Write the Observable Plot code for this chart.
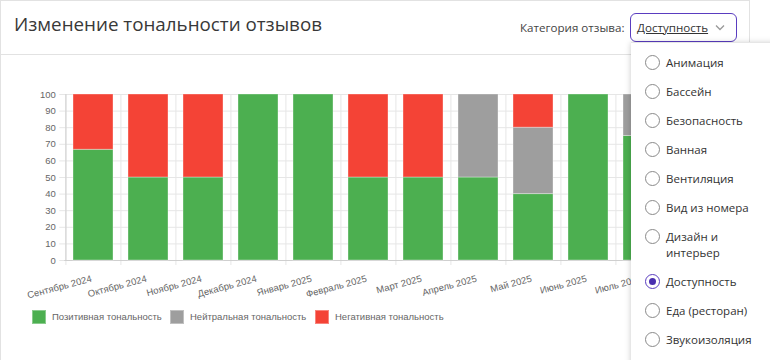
<!DOCTYPE html>
<html>
<head>
<meta charset="utf-8">
<script src="https://cdn.jsdelivr.net/npm/d3@7"></script>
<script src="https://cdn.jsdelivr.net/npm/@observablehq/plot@0.6"></script>
<style>
  html, body { margin: 0; padding: 0; background: #fff; width: 770px; height: 360px; overflow: hidden; }
  body { position: relative; font-family: "Open Sans", "Noto Sans", sans-serif; }
  #card { position: absolute; left: 0; top: 0; width: 748px; height: 400px; border: 1px solid #e2e2e2; box-sizing: content-box; }
  #header { position: absolute; left: 0; top: 0; width: 748px; height: 54px; border-bottom: 1px solid #e2e2e2; }
  #title { position: absolute; left: 14px; top: 11px; font-size: 18.8px; color: #383838; white-space: nowrap; }
  #catlabel { position: absolute; left: 520px; top: 20px; font-size: 11.6px; color: #444; white-space: nowrap; }
  #select { position: absolute; left: 630px; top: 13px; width: 107px; height: 29px; box-sizing: border-box; border: 1.5px solid #5a3dc0; border-radius: 6px; }
  #select span { position: absolute; left: 6px; top: 5.5px; font-size: 11.6px; color: #333; text-decoration: underline; white-space: nowrap; }
  #select svg { position: absolute; left: 84px; top: 10px; }
  #chart { position: absolute; left: 0; top: 84px; }
  #chart svg { font-family: "Liberation Sans", Arial, sans-serif; }
  #legend { position: absolute; top: 310px; left: 0; font-family: "Liberation Sans", Arial, sans-serif; font-size: 9.5px; color: #666; }
  .lg { position: absolute; top: 0; white-space: nowrap; }
  .lg i { position: absolute; left: 0; top: 0; width: 14px; height: 14px; box-sizing: border-box; border: 1px solid rgba(255,255,255,0.35); }
  .lg span { position: absolute; left: 20px; top: 1px; line-height: 12px; }
  #panel { position: absolute; left: 631px; top: 42px; width: 170px; height: 340px; background: #fff; box-shadow: 0 1px 6px rgba(0,0,0,0.22); border-top: 1px solid #e6e6e6; padding-top: 5px; box-sizing: border-box; }
  .item { position: relative; padding: 6.5px 0 6.5px 35px; font-size: 11.5px; line-height: 16px; color: #333; width: 90px; }
  .item .r { position: absolute; left: 14px; top: 7px; width: 15px; height: 15px; box-sizing: border-box; border: 1px solid #8a8a8a; border-radius: 50%; }
  .item .r.on { border: 1.5px solid #5a3dc0; }
  .item .r.on::after { content: ""; position: absolute; left: 2.5px; top: 2.5px; width: 7px; height: 7px; border-radius: 50%; background: #4a2fb0; }
</style>
</head>
<body>
<div id="card"></div>
<div id="header">
  <div id="title">Изменение тональности отзывов</div>
  <div id="catlabel">Категория отзыва:</div>
  <div id="select"><span>Доступность</span>
    <svg width="10" height="7" viewBox="0 0 10 7"><path d="M1 1.5 L5 5.5 L9 1.5" fill="none" stroke="#999" stroke-width="1.3"/></svg>
  </div>
</div>
<div id="chart"></div>
<div id="legend"></div>
<div id="panel"></div>
<script>
const months = ["Сентябрь 2024", "Октябрь 2024", "Ноябрь 2024", "Декабрь 2024", "Январь 2025", "Февраль 2025", "Март 2025", "Апрель 2025", "Май 2025", "Июнь 2025", "Июль 2025"];
const positive = [66.7, 50, 50, 100, 100, 50, 50, 50, 40, 100, 75];
const neutral  = [0, 0, 0, 0, 0, 0, 0, 50, 40, 0, 25];
const negative = [33.3, 50, 50, 0, 0, 50, 50, 0, 20, 0, 0];
const seriesNames = ["Позитивная тональность", "Нейтральная тональность", "Негативная тональность"];
const seriesColors = ["#4caf50", "#9e9e9e", "#f44336"];
const yTicks = [0, 10, 20, 30, 40, 50, 60, 70, 80, 90, 100];
const categories = ["Анимация", "Бассейн", "Безопасность", "Ванная", "Вентиляция", "Вид из номера", "Дизайн и интерьер", "Доступность", "Еда (ресторан)", "Звукоизоляция"];
const selected = "Доступность";

const rows = [];
months.forEach((m, i) => {
  [positive, neutral, negative].forEach((arr, k) => {
    rows.push({month: m, series: seriesNames[k], value: arr[i]});
  });
});

const W = 700, ML = 64.3, MR = 28.5;
const step = (W - ML - MR) / months.length;
const grid = "#e6e6e6";

const chart = Plot.plot({
  width: W,
  height: 221,
  marginTop: 10,
  marginBottom: 45,
  marginLeft: ML,
  marginRight: MR,
  style: {fontSize: "9.5px", color: "#666", background: "transparent"},
  x: {domain: months, paddingInner: 0.28, paddingOuter: 0.14},
  y: {domain: [0, 100]},
  color: {domain: seriesNames, range: seriesColors},
  marks: [
    Plot.ruleY(yTicks, {stroke: grid, insetLeft: -5}),
    Plot.ruleX(months, {stroke: grid, dx: -step / 2, insetBottom: -5}),
    Plot.ruleX([months[months.length - 1]], {stroke: grid, dx: step / 2, insetBottom: -5}),
    Plot.ruleY([0], {stroke: "#cfcfcf"}),
    Plot.ruleX([months[0]], {stroke: "#cfcfcf", dx: -step / 2}),
    Plot.barY(rows, Plot.stackY({
      x: "month", y: "value", fill: "series",
      order: seriesNames,
      stroke: "#ffffff", strokeOpacity: 0.35, strokeWidth: 1
    })),
    Plot.axisY({ticks: yTicks, tickSize: 0, tickPadding: 9, label: null, fill: "#666"}),
    Plot.axisX({tickSize: 0, tickPadding: 18, tickRotate: -15, label: null, fill: "#666", dx: -2})
  ]
});
document.getElementById("chart").appendChild(chart);

const legendPos = [32, 170, 315];
const legend = document.getElementById("legend");
seriesNames.forEach((s, k) => {
  const d = document.createElement("div");
  d.className = "lg";
  d.style.left = legendPos[k] + "px";
  d.innerHTML = `<i style="background:${seriesColors[k]}"></i><span>${s}</span>`;
  legend.appendChild(d);
});

const panel = document.getElementById("panel");
categories.forEach(c => {
  const d = document.createElement("div");
  d.className = "item";
  d.innerHTML = `<div class="r${c === selected ? " on" : ""}"></div>${c}`;
  panel.appendChild(d);
});
</script>
</body>
</html>
